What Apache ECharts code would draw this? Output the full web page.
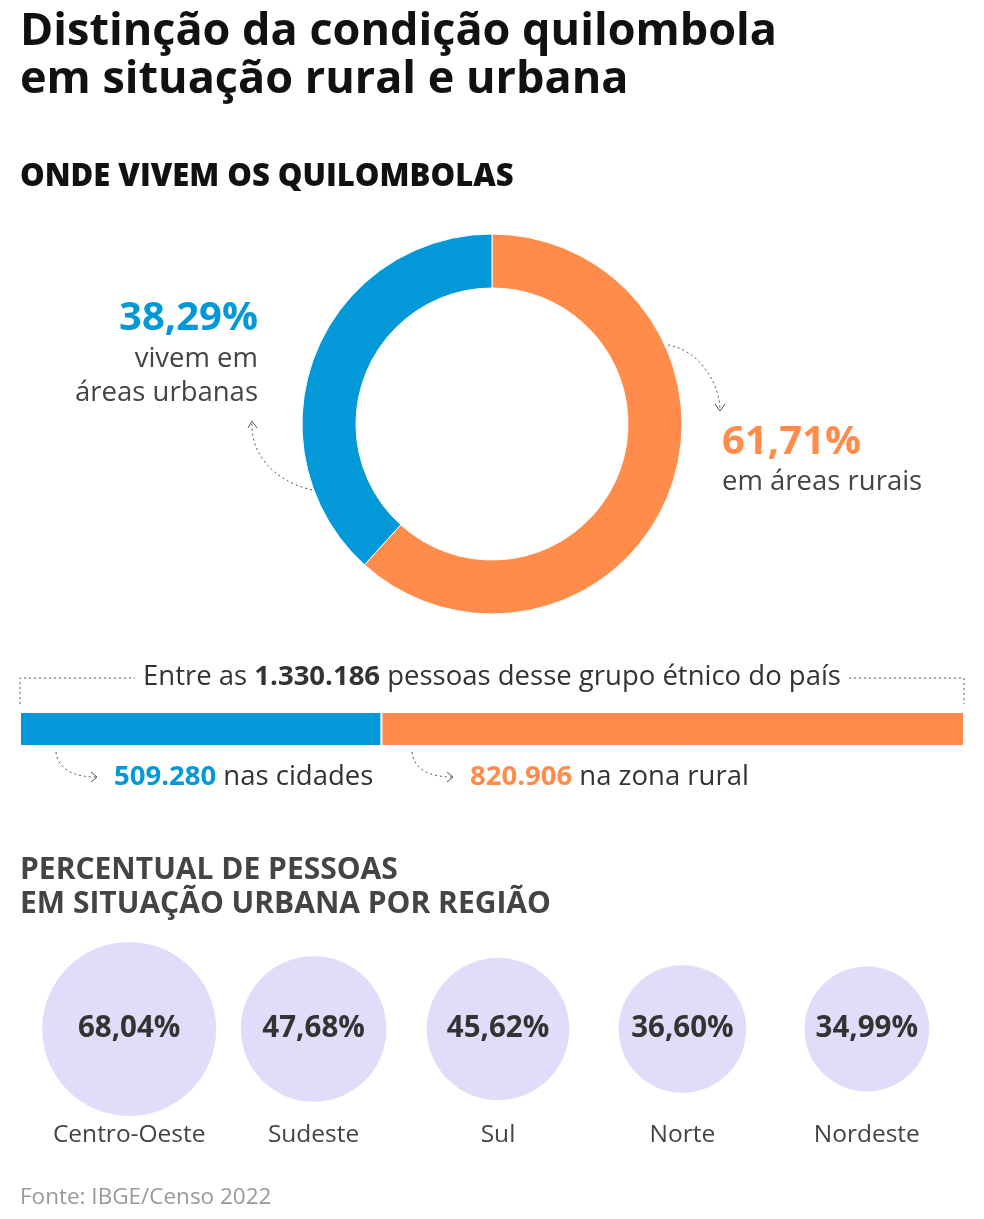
<!DOCTYPE html>
<html>
<head>
<meta charset="utf-8">
<script src="https://cdn.jsdelivr.net/npm/echarts@6.0.0/dist/echarts.min.js"></script>
<style>
html, body { margin: 0; padding: 0; background: #fff; }
#chart { width: 984px; height: 1219px; }
</style>
</head>
<body>
<div id="chart"></div>
<script>
const situacao = ['Rural', 'Urbana']
const percentuais = [61.71, 38.29]
const pessoas = [509280, 820906]
const totalPessoas = 1330186
const regioes = ['Centro-Oeste', 'Sudeste', 'Sul', 'Norte', 'Nordeste']
const urbanoRegiao = [68.04, 47.68, 45.62, 36.60, 34.99]

const BLUE = '#0398D8'
const ORANGE = '#FF8C4B'
const FONT = 'Open Sans'
const fmt = v => v.toFixed(2).replace('.', ',') + '%'

const chart = echarts.init(document.getElementById('chart'))

const dotted = { stroke: '#555', lineWidth: 1, lineDash: [2, 3], fill: null }
const arrow = { stroke: '#555', lineWidth: 1, fill: null }

chart.setOption({
  animation: false,
  textStyle: { fontFamily: FONT },
  grid: [
    { left: 20, right: 20, top: 712, height: 34 },
    { left: 37, right: 25, top: 943, height: 172 }
  ],
  xAxis: [
    { gridIndex: 0, type: 'value', min: 0, max: totalPessoas, show: false },
    { gridIndex: 1, type: 'category', data: regioes,
      axisLine: { show: false }, axisTick: { show: false },
      axisLabel: { interval: 0, fontSize: 24.5, color: '#444', margin: 8 } }
  ],
  yAxis: [
    { gridIndex: 0, type: 'category', data: ['total'], show: false },
    { gridIndex: 1, type: 'value', min: 0, max: 1, show: false }
  ],
  series: [
    {
      type: 'pie', center: [492, 424], radius: [136, 190],
      startAngle: 90, clockwise: true, label: { show: false },
      itemStyle: { borderColor: '#fff', borderWidth: 1 },
      data: [
        { name: situacao[0], value: percentuais[0], itemStyle: { color: ORANGE } },
        { name: situacao[1], value: percentuais[1], itemStyle: { color: BLUE } }
      ]
    },
    {
      type: 'bar', xAxisIndex: 0, yAxisIndex: 0, stack: 't', barWidth: 34,
      data: [pessoas[0]], itemStyle: { color: BLUE, borderColor: '#fff', borderWidth: 1 }
    },
    {
      type: 'bar', xAxisIndex: 0, yAxisIndex: 0, stack: 't', barWidth: 34,
      data: [pessoas[1]], itemStyle: { color: ORANGE, borderColor: '#fff', borderWidth: 1 }
    },
    {
      type: 'scatter', xAxisIndex: 1, yAxisIndex: 1,
      data: urbanoRegiao.map((v, i) => [i, 0.5, v]),
      symbolSize: d => 174 * Math.sqrt(d[2] / urbanoRegiao[0]),
      itemStyle: { color: '#E1DCF9', opacity: 1 },
      label: { show: true, position: 'inside', formatter: p => fmt(p.value[2]),
        fontSize: 29.5, fontWeight: 'bold', color: '#333' }
    }
  ],
  graphic: [
    { type: 'text', left: 20, top: 8, style: { text: 'Distinção da condição quilombola\nem situação rural e urbana',
      font: 'bold 45px "Open Sans"', fill: '#111', lineHeight: 48 } },
    { type: 'text', left: 20, top: 162, style: { text: 'ONDE VIVEM OS QUILOMBOLAS',
      font: '800 31px "Open Sans"', fill: '#111' } },
    { type: 'text', x: 258, y: 299, style: { text: fmt(percentuais[1]), align: 'right',
      font: 'bold 40px "Open Sans"', fill: BLUE } },
    { type: 'text', x: 258, y: 342, style: { text: 'vivem em\náreas urbanas', align: 'right',
      font: '27.5px "Open Sans"', fill: '#444', lineHeight: 34 } },
    { type: 'text', x: 722, y: 423, style: { text: fmt(percentuais[0]),
      font: 'bold 40px "Open Sans"', fill: ORANGE } },
    { type: 'text', x: 722, y: 468, style: { text: 'em áreas rurais',
      font: '27.5px "Open Sans"', fill: '#444' } },
    { type: 'bezierCurve', shape: { x1: 312, y1: 490, x2: 252, y2: 422, cpx1: 270, cpy1: 480, cpx2: 250, cpy2: 450 }, style: dotted },
    { type: 'polyline', shape: { points: [[248, 428], [252, 421], [257, 428]] }, style: arrow },
    { type: 'bezierCurve', shape: { x1: 668, y1: 345, x2: 720, y2: 410, cpx1: 700, cpy1: 350, cpx2: 720, cpy2: 385 }, style: dotted },
    { type: 'polyline', shape: { points: [[715, 404], [720, 411], [725, 404]] }, style: arrow },
    { type: 'polyline', shape: { points: [[20, 704], [20, 678], [964, 678], [964, 704]] }, style: dotted },
    { type: 'text', x: 492, y: 677, style: {
      text: '{n|Entre as }{b|' + totalPessoas.toLocaleString('de-DE') + '}{n| pessoas desse grupo étnico do país}',
      align: 'center', verticalAlign: 'middle', backgroundColor: '#fff', padding: [0, 8],
      rich: { n: { font: '27.5px "Open Sans"', fill: '#333' }, b: { font: 'bold 27.5px "Open Sans"', fill: '#333' } } } },
    { type: 'bezierCurve', shape: { x1: 56, y1: 752, x2: 96, y2: 777, cpx1: 58, cpy1: 770, cpx2: 75, cpy2: 777 }, style: dotted },
    { type: 'polyline', shape: { points: [[91, 772], [97, 777], [91, 782]] }, style: arrow },
    { type: 'bezierCurve', shape: { x1: 412, y1: 752, x2: 452, y2: 777, cpx1: 414, cpy1: 770, cpx2: 431, cpy2: 777 }, style: dotted },
    { type: 'polyline', shape: { points: [[447, 772], [453, 777], [447, 782]] }, style: arrow },
    { type: 'text', x: 114, y: 777, style: {
      text: '{c|' + pessoas[0].toLocaleString('de-DE') + '}{n| nas cidades}', verticalAlign: 'middle',
      rich: { c: { font: 'bold 27.5px "Open Sans"', fill: BLUE }, n: { font: '27.5px "Open Sans"', fill: '#333' } } } },
    { type: 'text', x: 470, y: 777, style: {
      text: '{c|' + pessoas[1].toLocaleString('de-DE') + '}{n| na zona rural}', verticalAlign: 'middle',
      rich: { c: { font: 'bold 27.5px "Open Sans"', fill: ORANGE }, n: { font: '27.5px "Open Sans"', fill: '#333' } } } },
    { type: 'text', left: 20, top: 853, style: { text: 'PERCENTUAL DE PESSOAS\nEM SITUAÇÃO URBANA POR REGIÃO',
      font: 'bold 30px "Open Sans"', fill: '#444', lineHeight: 34 } },
    { type: 'text', left: 20, top: 1186, style: { text: 'Fonte: IBGE/Censo 2022',
      font: '22.5px "Open Sans"', fill: '#999' } }
  ]
})
</script>
</body>
</html>
